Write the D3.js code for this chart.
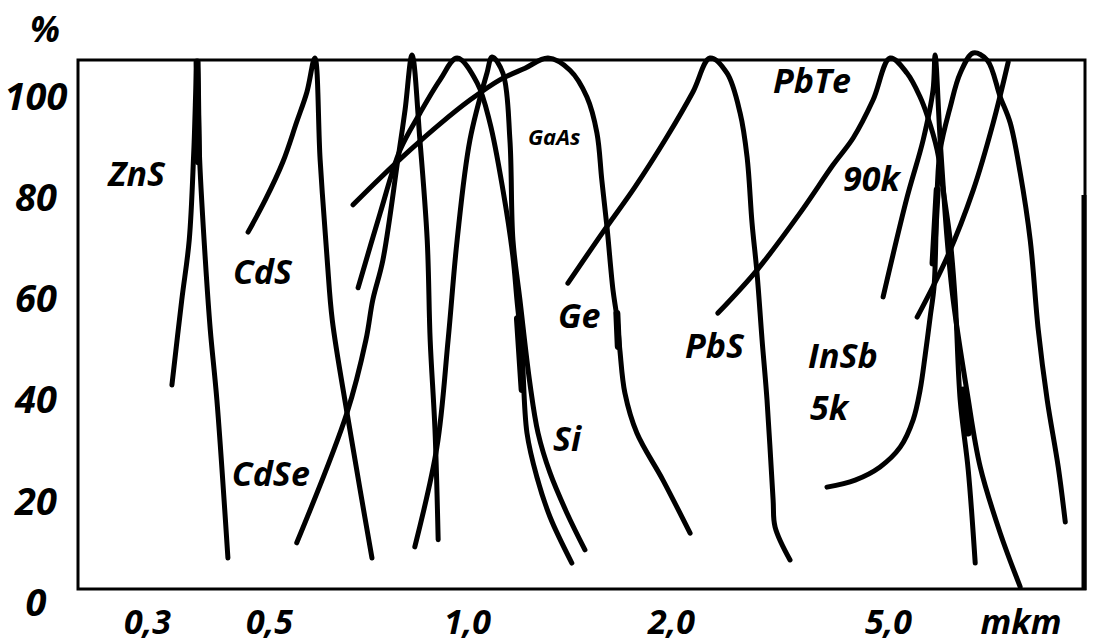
<!DOCTYPE html>
<html>
<head>
<meta charset="utf-8">
<script src="https://cdn.jsdelivr.net/npm/d3@7"></script>
<style>
  body { margin: 0; background: #fff; }
  text { font-family: "Open Sans", "Noto Sans", "DejaVu Sans", sans-serif; font-weight: bold; font-style: italic; fill: #000; }
</style>
</head>
<body>
<div id="chart"></div>
<script>
// wavelength ticks (mkm), hand-drawn axis so each tick has its own place
var xTicks = [0.3, 0.5, 1, 2, 5];
var xTickLabels = ["0,3", "0,5", "1,0", "2,0", "5,0"];
var yTicks = [0, 20, 40, 60, 80, 100];

// curves: [wavelength mkm, relative sensitivity %]
var znS = [[0.333, 42.9], [0.347, 59.7], [0.358, 71.5], [0.365, 89.3], [0.370, 106.7],
  [0.374, 87.4], [0.383, 67.6], [0.391, 53.8], [0.402, 39.9], [0.421, 8.7]];
var cdS = [[0.458, 73.1], [0.492, 79.4], [0.525, 87.0], [0.551, 94.9], [0.571, 100.8], [0.587, 107.5],
  [0.598, 87.4], [0.613, 67.6], [0.624, 55.7], [0.657, 37.4], [0.688, 22.1], [0.717, 8.7]];
var cdSe = [[0.551, 11.7], [0.657, 37.4], [0.702, 51.8], [0.719, 59.7], [0.745, 67.6], [0.785, 87.4],
  [0.805, 97.2], [0.825, 108.1], [0.848, 91.3], [0.870, 71.5], [0.879, 51.8], [0.894, 34.0], [0.904, 12.3]];
var siA = [[0.683, 62.1], [0.738, 76.9], [0.791, 89.3], [0.848, 96.6], [0.910, 103.2], [0.966, 107.5],
  [1.035, 102.6], [1.081, 94.7], [1.130, 81.4], [1.169, 68.2], [1.185, 59.7], [1.205, 49.8],
  [1.226, 33.4], [1.268, 24.7], [1.326, 16.8], [1.428, 7.7]];
var siB = [[0.833, 10.9], [0.900, 30.6], [0.936, 51.8], [0.966, 71.5], [1.010, 91.3], [1.070, 104.5], [1.089, 107.7],
  [1.130, 104.5], [1.157, 91.3], [1.169, 71.5], [1.197, 59.7], [1.238, 43.3], [1.273, 33.4],
  [1.326, 25.5], [1.404, 17.6], [1.493, 10.3]];
var gaAs = [[0.671, 78.5], [0.738, 83.8], [0.819, 89.3], [0.910, 94.5], [1.010, 99.2], [1.118, 103.2], [1.218, 105.5],
  [1.317, 107.5], [1.419, 105.1], [1.503, 99.8], [1.555, 92.7], [1.581, 83.4], [1.609, 74.1], [1.642, 61.7],
  [1.664, 56.3], [1.681, 49.8], [1.710, 41.3], [1.781, 33.4], [1.946, 24.1], [2.168, 13.6]];
var ge = [[1.409, 63.0], [1.587, 73.1], [1.769, 82.0], [1.972, 91.9], [2.194, 100.8], [2.358, 107.5],
  [2.534, 104.5], [2.678, 96.6], [2.758, 87.9], [2.816, 74.9], [2.876, 65.0], [2.938, 51.8],
  [3.000, 39.9], [3.078, 20.2], [3.104, 14.8], [3.306, 8.3]];
var pbTe = [[2.438, 57.1], [2.876, 65.6], [3.450, 76.9], [3.966, 86.4], [4.316, 91.7],
  [4.694, 99.2], [5.046, 107.5], [5.420, 104.5], [5.726, 99.8], [5.898, 96.2], [6.154, 89.3],
  [6.312, 81.4], [6.502, 71.5], [6.640, 59.7], [6.782, 39.9], [7.016, 26.1], [7.226, 7.7]];
var spike = [[4.898, 60.3], [5.420, 80.0], [5.800, 91.3], [6.048, 101.2], [6.100, 108.1],
  [6.232, 91.3], [6.420, 71.5], [6.584, 59.7], [6.986, 41.3], [7.380, 26.7], [8.032, 13.6], [8.738, 3.0]];
var inSb = [[3.864, 22.7], [4.352, 24.1], [4.836, 26.7], [5.264, 30.6], [5.560, 36.0], [5.726, 41.9],
  [5.850, 48.8], [5.974, 56.3], [6.076, 62.6], [6.154, 81.4], [6.232, 89.3], [6.502, 97.8], [6.782, 104.5],
  [7.166, 108.5], [7.600, 107.1], [8.032, 99.8], [8.376, 94.7], [8.738, 84.8], [9.116, 71.5], [9.430, 53.8],
  [9.794, 39.9], [10.26, 26.7], [10.57, 15.8]];
var straight = [[5.654, 56.3], [6.420, 68.2], [7.166, 81.4], [7.796, 94.7], [8.306, 106.7]];

var curves = [znS, cdS, cdSe, siA, siB, gaAs, ge, pbTe, spike, inSb, straight];

// short heavy pen strokes over the curves
var heavy = [
  [[0.370, 106.7], [0.372, 87.0]],
  [[1.187, 56.0], [1.206, 42.0]],
  [[1.664, 57.0], [1.672, 50.5]],
  [[6.154, 81.4], [6.048, 67.0]],
  [[6.868, 41.9], [7.016, 33.4]]
];

// curve labels: text, wavelength (left edge), percent, size
var labels = [
  ["ZnS", 0.255, 84.6, 34], ["CdS", 0.430, 65.2, 34], ["CdSe", 0.428, 25.3, 34],
  ["GaAs", 1.230, 91.9, 22], ["Ge", 1.362, 56.5, 34], ["Si", 1.339, 32.2, 34],
  ["PbS", 2.122, 50.6, 34], ["PbTe", 3.078, 103.0, 34], ["90k", 4.136, 83.6, 34],
  ["InSb", 3.568, 48.6, 34], ["5k", 3.598, 38.3, 34]
];

var W = 1097, H = 644;
var frame = { left: 78, right: 1085, top: 60, bottom: 589 };

var svg = d3.select("#chart").append("svg")
  .attr("width", W)
  .attr("height", H);

var x = d3.scaleLog()
  .domain(xTicks)
  .range([147, 269, 467, 671, 888]);

var y = d3.scaleLinear()
  .domain([0, 100])
  .range([602, 96]);

// frame
svg.append("rect")
  .attr("x", frame.left)
  .attr("y", frame.top)
  .attr("width", frame.right - frame.left)
  .attr("height", frame.bottom - frame.top)
  .attr("fill", "none")
  .attr("stroke", "#000")
  .attr("stroke-width", 3);

// the right edge was gone over twice lower down
svg.append("line")
  .attr("x1", frame.right - 1).attr("x2", frame.right - 1)
  .attr("y1", 195).attr("y2", frame.bottom + 1)
  .attr("stroke", "#000")
  .attr("stroke-width", 5);

// axes, labels only
var xAxis = svg.append("g")
  .attr("transform", "translate(0,622)")
  .call(d3.axisBottom(x).tickValues(xTicks).tickSize(0)
    .tickFormat(function(d, i) { return xTickLabels[i]; }));
xAxis.select(".domain").remove();
xAxis.selectAll("text")
  .attr("dy", "0.35em")
  .attr("y", 0)
  .style("font-size", "34px");

var yAxis = svg.append("g")
  .attr("transform", "translate(36,0)")
  .call(d3.axisLeft(y).tickValues(yTicks).tickSize(0));
yAxis.select(".domain").remove();
yAxis.selectAll("text")
  .attr("x", 0)
  .attr("dy", "0.35em")
  .attr("text-anchor", "middle")
  .style("font-size", "38px");

svg.append("text")
  .attr("x", 45).attr("y", 30)
  .attr("dy", "0.35em")
  .attr("text-anchor", "middle")
  .style("font-size", "35px")
  .text("%");

svg.append("text")
  .attr("x", 1021).attr("y", 622)
  .attr("dy", "0.35em")
  .attr("text-anchor", "middle")
  .style("font-size", "34px")
  .text("mkm");

// curves
var line = d3.line()
  .x(function(d) { return x(d[0]); })
  .y(function(d) { return y(d[1]); })
  .curve(d3.curveCatmullRom.alpha(0.5));

svg.selectAll("path.curve")
  .data(curves)
  .enter().append("path")
  .attr("class", "curve")
  .attr("d", line)
  .attr("fill", "none")
  .attr("stroke", "#000")
  .attr("stroke-width", 5)
  .attr("stroke-linecap", "round")
  .attr("stroke-linejoin", "round");

svg.selectAll("path.heavy")
  .data(heavy)
  .enter().append("path")
  .attr("class", "heavy")
  .attr("d", d3.line().x(function(d) { return x(d[0]); }).y(function(d) { return y(d[1]); }))
  .attr("fill", "none")
  .attr("stroke", "#000")
  .attr("stroke-width", 7)
  .attr("stroke-linecap", "round");

svg.selectAll("text.label")
  .data(labels)
  .enter().append("text")
  .attr("class", "label")
  .attr("x", function(d) { return x(d[1]); })
  .attr("y", function(d) { return y(d[2]); })
  .attr("dy", "0.35em")
  .style("font-size", function(d) { return d[3] + "px"; })
  .text(function(d) { return d[0]; });
</script>
</body>
</html>
